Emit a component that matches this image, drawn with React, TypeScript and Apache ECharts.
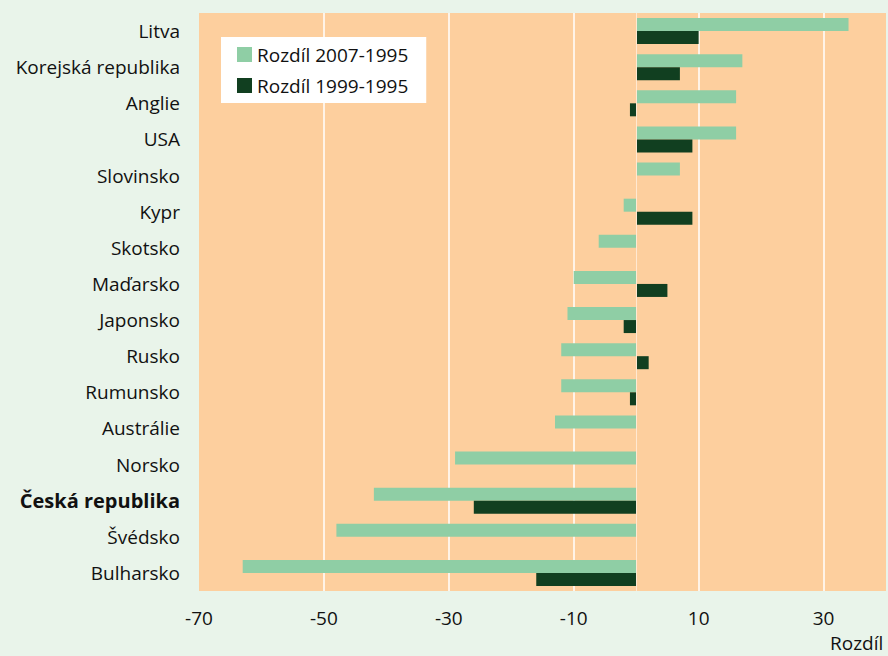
import React, { useEffect, useRef } from "react";
import * as echarts from "echarts";

const categories = [
  "Litva", "Korejská republika", "Anglie", "USA", "Slovinsko", "Kypr", "Skotsko",
  "Maďarsko", "Japonsko", "Rusko", "Rumunsko", "Austrálie", "Norsko",
  "Česká republika", "Švédsko", "Bulharsko",
];
const diff2007 = [34, 17, 16, 16, 7, -2, -6, -10, -11, -12, -12, -13, -29, -42, -48, -63];
const diff1999 = [10, 7, -1, 9, 0, 9, 0, 5, -2, 2, -1, 0, 0, -26, 0, -16];
const seriesNames = ["Rozdíl 2007-1995", "Rozdíl 1999-1995"];
const xTicks = { min: -70, max: 40, interval: 20 };

const FONT = "'Open Sans', Lato, sans-serif";
const FS = 19;

export default function App() {
  const ref = useRef<HTMLDivElement>(null);
  useEffect(() => {
    if (!ref.current) return;
    const chart = echarts.init(ref.current, null, { renderer: "svg" });
    chart.setOption({
      animation: false,
      backgroundColor: "#e9f4ea",
      textStyle: { fontFamily: FONT },
      grid: { left: 199, right: 2, top: 13, bottom: 65, show: true, backgroundColor: "#fdcf9e", borderWidth: 0 },
      legend: {
        orient: "vertical",
        left: 221,
        top: 37,
        backgroundColor: "#ffffff",
        padding: [8, 18, 8, 16],
        itemWidth: 15,
        itemHeight: 15,
        itemGap: 12,
        icon: "rect",
        textStyle: { fontSize: 19, color: "#111", fontFamily: FONT },
        data: seriesNames,
      },
      xAxis: {
        type: "value",
        min: xTicks.min,
        max: xTicks.max,
        interval: xTicks.interval,
        axisLine: { show: false },
        axisTick: { show: false },
        axisLabel: {
          showMaxLabel: false,
          fontSize: FS,
          color: "#111",
          margin: 17,
          fontFamily: FONT,
          formatter: (v: number) => (v === 40 ? "" : String(v)),
        },
        splitLine: { show: true, showMinLine: false, showMaxLine: false, lineStyle: { color: "#ffffff", width: 1.5 } },
      },
      yAxis: {
        type: "category",
        data: categories,
        inverse: true,
        axisLine: { show: false },
        axisTick: { show: false },
        splitLine: { show: false },
        axisLabel: {
          fontSize: FS,
          color: "#111",
          margin: 19,
          fontFamily: FONT,
          formatter: (v: string) => (v === "Česká republika" ? "{b|" + v + "}" : v),
          rich: { b: { fontWeight: "bold", fontSize: 20, color: "#111", fontFamily: FONT } },
        },
      },
      series: [
        {
          name: seriesNames[0],
          type: "bar",
          data: diff2007,
          itemStyle: { color: "#8fcea5" },
          barGap: "0%",
          barCategoryGap: "28%",
          markLine: {
            silent: true,
            symbol: "none",
            label: { show: false },
            lineStyle: { color: "#ffe9d2", width: 1, type: "solid" },
            data: [{ xAxis: 0 }],
          },
        },
        {
          name: seriesNames[1],
          type: "bar",
          data: diff1999,
          itemStyle: { color: "#113f20" },
          barGap: "0%",
          barCategoryGap: "28%",
        },
      ],
      graphic: [
        {
          type: "text",
          left: 830,
          top: 633,
          style: { text: "Rozdíl", fontSize: FS, fill: "#111", fontFamily: FONT },
        },
      ],
    });
    return () => chart.dispose();
  }, []);
  return <div ref={ref} style={{ width: 888, height: 656, position: "fixed", left: 0, top: 0 }} />;
}
